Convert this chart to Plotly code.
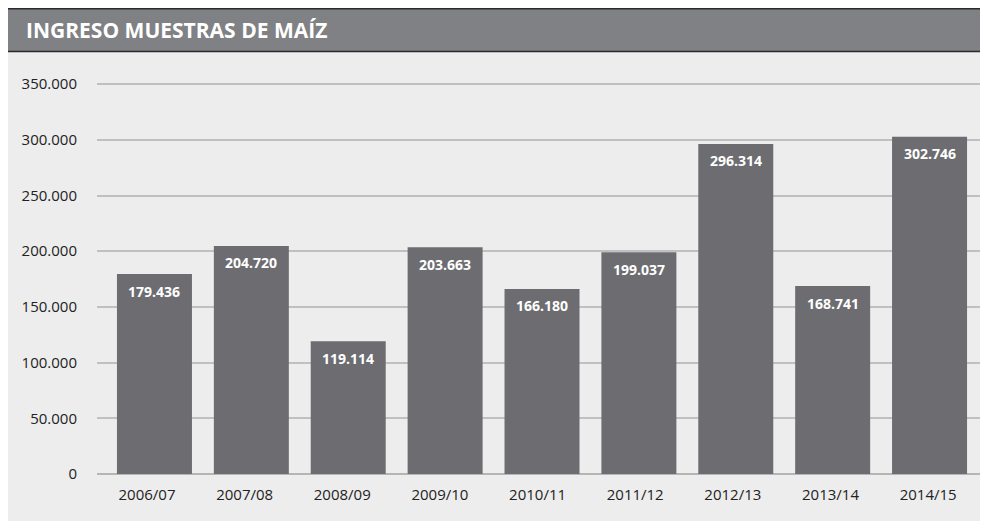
import plotly.graph_objects as go

categories = ["2006/07", "2007/08", "2008/09", "2009/10", "2010/11",
              "2011/12", "2012/13", "2013/14", "2014/15"]
values = [179436, 204720, 119114, 203663, 166180, 199037, 296314, 168741, 302746]
y_ticks = [0, 50000, 100000, 150000, 200000, 250000, 300000, 350000]
title_text = "INGRESO MUESTRAS DE MAÍZ"

# the page has an 8px body margin; figure sized to fit the window
OFF = 8
W, H = 988 - OFF, 523 - OFF
L, R, T, B = 97 - OFF, 7, 83 - OFF, 49
pw, ph = W - L - R, H - T - B

def px_x(p):
    return (p - OFF - L) / pw

def px_y(p):
    return (H - B - (p - OFF)) / ph

BAR = "#6d6d71"
FONT = "Open Sans, DejaVu Sans, sans-serif"

bar_pos = list(range(len(categories)))
# category labels sit on a slightly wider pitch than the bars (as in the source)
label_pos = [-0.077 + 1.0078 * i for i in bar_pos]

fig = go.Figure()
fig.add_trace(go.Bar(
    x=bar_pos, y=values,
    marker=dict(color=BAR, line=dict(width=0)),
    width=0.774, hoverinfo="skip",
))

for i, v in zip(bar_pos, values):
    fig.add_annotation(
        x=i, y=v, xref="x", yref="y",
        text="<b>" + f"{v:,}".replace(",", ".") + "</b>",
        showarrow=False, yshift=-17, yanchor="middle",
        font=dict(family=FONT, size=14, color="white"),
    )

shapes = [
    dict(type="rect", xref="paper", yref="paper",
         x0=px_x(8), x1=px_x(988), y0=px_y(521), y1=px_y(52),
         fillcolor="#ededed", line=dict(width=0), layer="below"),
    dict(type="rect", xref="paper", yref="paper",
         x0=px_x(8), x1=px_x(988), y0=px_y(52), y1=px_y(8.5),
         fillcolor="#808184", line=dict(width=0), layer="below"),
    dict(type="line", xref="paper", yref="paper",
         x0=px_x(8), x1=px_x(988), y0=px_y(8.8), y1=px_y(8.8),
         line=dict(color="#2b2b2b", width=1.5)),
    dict(type="line", xref="paper", yref="paper",
         x0=px_x(8), x1=px_x(988), y0=px_y(51.5), y1=px_y(51.5),
         line=dict(color="#2b2b2b", width=1.5)),
]

fig.add_annotation(
    xref="paper", yref="paper", x=px_x(24), y=px_y(30),
    xanchor="left", yanchor="middle", showarrow=False,
    text="<b>" + title_text + "</b>",
    font=dict(family=FONT, size=21, color="white"),
)

fig.update_layout(
    width=W, height=H,
    margin=dict(l=L, r=R, t=T, b=B, pad=0),
    paper_bgcolor="white", plot_bgcolor="rgba(0,0,0,0)",
    shapes=shapes, showlegend=False, separators=",.",
    font=dict(family=FONT, size=15, color="#222222"),
    xaxis=dict(
        range=[-0.593, 8.531], tickmode="array",
        tickvals=label_pos, ticktext=categories,
        showgrid=False, zeroline=False, showline=False,
        ticks="outside", ticklen=7, tickcolor="rgba(0,0,0,0)",
        tickfont=dict(family=FONT, size=15, color="#222222"),
        fixedrange=True,
    ),
    yaxis=dict(
        range=[0, 351000], tickmode="array", tickvals=y_ticks,
        tickformat=",d", showgrid=True, gridcolor="#c0c0c0", gridwidth=1.5,
        zeroline=True, zerolinecolor="#b5b5b5", zerolinewidth=1.5,
        showline=False, ticks="outside", ticklen=16,
        tickcolor="rgba(0,0,0,0)",
        tickfont=dict(family=FONT, size=15, color="#222222"),
        fixedrange=True,
    ),
)

fig.write_html("out.html")
